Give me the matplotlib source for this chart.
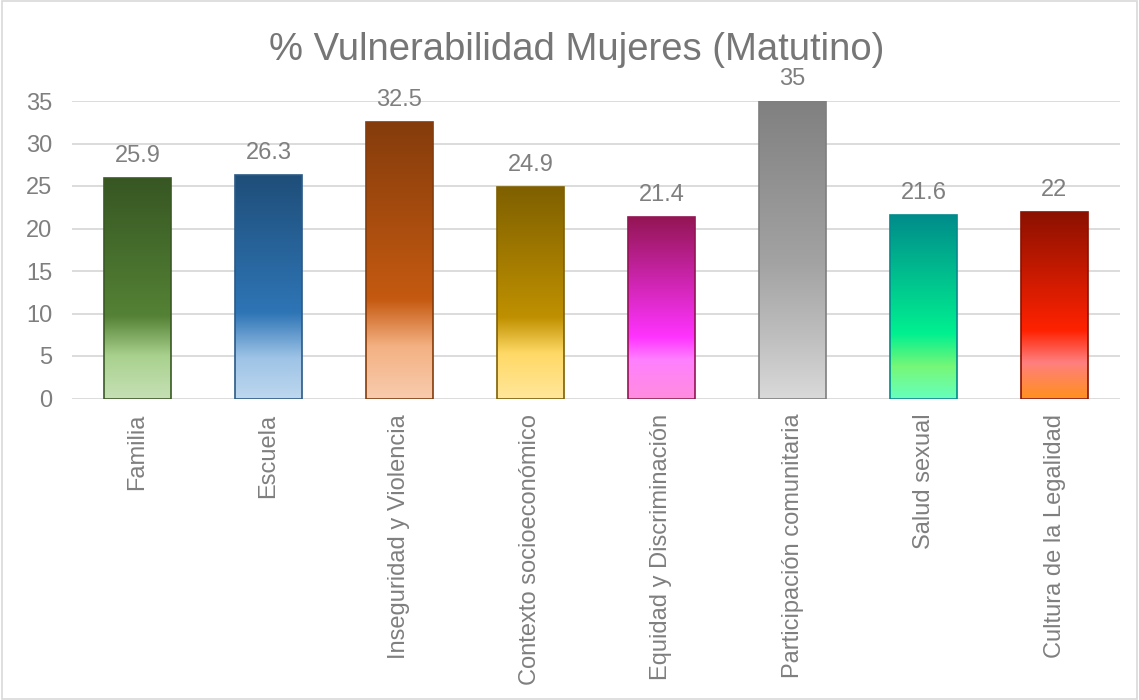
import matplotlib
matplotlib.use("Agg")
import matplotlib.pyplot as plt
import numpy as np
from matplotlib.colors import LinearSegmentedColormap
from matplotlib.patches import Rectangle

categories = ["Familia", "Escuela", "Inseguridad y Violencia", "Contexto socioeconómico",
              "Equidad y Discriminación", "Participación comunitaria", "Salud sexual",
              "Cultura de la Legalidad"]
values = [25.9, 26.3, 32.5, 24.9, 21.4, 35, 21.6, 22]
value_labels = ["25.9", "26.3", "32.5", "24.9", "21.4", "35", "21.6", "22"]
y_ticks = [0, 5, 10, 15, 20, 25, 30, 35]
title = "% Vulnerabilidad Mujeres (Matutino)"

# gradient stops: (fraction from bottom, colour)
gradients = [
    [(0, "#c5e0b4"), (0.19, "#a9d18e"), (0.37, "#548235"), (1, "#375623")],
    [(0, "#bdd7ee"), (0.18, "#9dc3e6"), (0.38, "#2e75b6"), (1, "#1f4e79")],
    [(0, "#f8cbad"), (0.185, "#f4b183"), (0.355, "#c55a11"), (1, "#843c0c")],
    [(0, "#ffe699"), (0.21, "#ffd966"), (0.38, "#bf9000"), (1, "#7f6000")],
    [(0, "#ff8ce0"), (0.21, "#ff80ff"), (0.335, "#ff33ff"), (1, "#931553")],
    [(0, "#d9d9d9"), (0.2, "#bfbfbf"), (0.45, "#a3a3a3"), (1, "#808080")],
    [(0, "#66ffbb"), (0.17, "#77f777"), (0.35, "#00f090"), (1, "#008b8b")],
    [(0, "#ff9020"), (0.19, "#ff7f7f"), (0.36, "#ff2200"), (1, "#8b1100")],
]
edge_colors = ["#3a5a24", "#2a5a88", "#843c0c", "#7f6000", "#931553", "#7f7f7f",
               "#008b8b", "#8b1100"]

plt.rcParams['font.family'] = ['Liberation Sans', 'DejaVu Sans']
fig = plt.figure(figsize=(11.39, 7.0), dpi=100)
ax = fig.add_axes([72/1139, 1 - 398.5/700, (1120 - 72)/1139, (398.5 - 101)/700])

x = np.arange(len(categories))
width = 0.51
bars = ax.bar(x, values, width=width, facecolor="none", edgecolor=edge_colors,
              linewidth=1.2, zorder=3)

for i, (b, v) in enumerate(zip(bars, values)):
    cmap = LinearSegmentedColormap.from_list(f"g{i}", gradients[i])
    grad = np.linspace(0, 1, 256).reshape(-1, 1)
    im = ax.imshow(grad, cmap=cmap, origin="lower", aspect="auto",
                   extent=[b.get_x(), b.get_x() + b.get_width(), 0, v], zorder=2,
                   interpolation="bicubic")
    im.set_clip_path(b)
    ax.annotate(value_labels[i], (x[i], v), xytext=(0, 11.5), textcoords="offset points",
                ha="center", va="baseline", fontsize=17, color="#7f7f7f", zorder=4)

ax.set_xlim(-0.5, len(categories) - 0.5)
ax.set_ylim(0, 35)
ax.set_yticks(y_ticks)
ax.set_xticks(x)
ax.set_xticklabels(categories, rotation=90, fontsize=17, color="#7f7f7f")
ax.tick_params(axis="x", length=0, pad=11)
ax.tick_params(axis="y", length=0, pad=14, labelsize=17, labelcolor="#7f7f7f")
ax.yaxis.grid(True, color="#d9d9d9", linewidth=1.3, zorder=0)
ax.set_axisbelow(True)
for s in ax.spines.values():
    s.set_visible(False)
ax.patch.set_alpha(0)

fig.text(577/1139, 1 - 59.5/700, title, ha="center", va="baseline", fontsize=27.5,
         color="#767676")

fig.patches.append(Rectangle((0.002, 0.002), 0.996, 0.996, transform=fig.transFigure,
                             fill=False, edgecolor="#d9d9d9", linewidth=1.2))

fig.savefig("out.png", dpi=100)
